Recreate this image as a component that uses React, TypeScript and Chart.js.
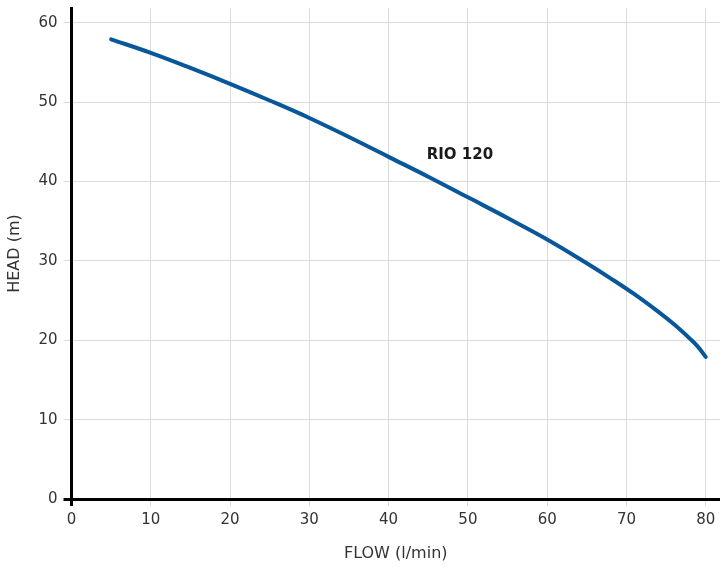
import React, { useEffect, useRef } from "react";
import { Chart, registerables } from "chart.js";

Chart.register(...registerables);

const flow = [5, 10, 15, 20, 25, 30, 35, 40, 45, 50, 55, 60, 65, 68, 71, 74, 76, 78, 79, 80];
const head = [57.9, 56.2, 54.3, 52.3, 50.2, 48.0, 45.6, 43.1, 40.6, 38.0, 35.4, 32.7, 29.7, 27.8, 25.8, 23.6, 22.0, 20.2, 19.2, 17.9];
const xTicks = [0, 10, 20, 30, 40, 50, 60, 70, 80];
const yTicks = [0, 10, 20, 30, 40, 50, 60];
const seriesLabel = "RIO 120";
const labelAt = { x: 44.8, y: 43.3 };
const xTitle = "FLOW (l/min)";
const yTitle = "HEAD (m)";

const FONT = "'DejaVu Sans', sans-serif";

const labelPlugin = {
  id: "curveLabel",
  afterDatasetsDraw(chart: any) {
    const { ctx, scales } = chart;
    const px = scales.x.getPixelForValue(labelAt.x);
    const py = scales.y.getPixelForValue(labelAt.y);
    ctx.save();
    ctx.font = `bold 15px ${FONT}`;
    ctx.fillStyle = "#1a1a1a";
    ctx.textAlign = "left";
    ctx.textBaseline = "middle";
    ctx.fillText(seriesLabel, px, py);
    ctx.restore();
  },
};

export default function App() {
  const ref = useRef<HTMLCanvasElement>(null);
  useEffect(() => {
    document.body.style.margin = "0";
    const gridColor = (c: any) => (c.tick && c.tick.value === 0 ? "#000" : "#dcdcdc");
    const gridWidth = (c: any) => (c.tick && c.tick.value === 0 ? 3 : 1);
    const chart = new Chart(ref.current!, {
      type: "line",
      data: {
        datasets: [
          {
            label: seriesLabel,
            data: flow.map((f, i) => ({ x: f, y: head[i] })),
            borderColor: "#07579a",
            borderWidth: 4,
            borderCapStyle: "round",
            pointRadius: 0,
            tension: 0.4,
            fill: false,
          },
        ],
      },
      options: {
        animation: false,
        responsive: true,
        maintainAspectRatio: false,
        layout: { padding: { top: 8, right: 0, left: 0, bottom: 0 } },
        plugins: { legend: { display: false }, tooltip: { enabled: false } },
        scales: {
          x: {
            type: "linear",
            min: 0,
            max: 81.8,
            afterBuildTicks: (s: any) => {
              s.ticks = xTicks.map((v) => ({ value: v }));
            },
            afterFit: (s: any) => {
              s.height = 68;
              s.paddingLeft = 0;
              s.paddingRight = 0;
            },
            ticks: { color: "#333", font: { family: FONT, size: 15 }, padding: 5, maxRotation: 0, autoSkip: false },
            grid: { color: gridColor, lineWidth: gridWidth, tickLength: 7 },
            border: { color: "#000", width: 3 },
            title: { display: true, text: xTitle, color: "#333", font: { family: FONT, size: 16 }, padding: { top: 6 } },
          },
          y: {
            type: "linear",
            min: 0,
            max: 61.85,
            afterBuildTicks: (s: any) => {
              s.ticks = yTicks.map((v) => ({ value: v }));
            },
            afterFit: (s: any) => {
              s.width = 71.5;
              s.paddingTop = 0;
              s.paddingBottom = 0;
            },
            ticks: { color: "#333", font: { family: FONT, size: 15 }, padding: 6, autoSkip: false },
            grid: { color: gridColor, lineWidth: gridWidth, tickLength: 8 },
            border: { color: "#000", width: 3 },
            title: { display: true, text: yTitle, color: "#333", font: { family: FONT, size: 16 }, padding: { top: 5, bottom: 0 } },
          },
        },
      },
      plugins: [labelPlugin],
    });
    return () => chart.destroy();
  }, []);
  return (
    <div style={{ width: 720, height: 567, position: "relative" }}>
      <canvas ref={ref} />
    </div>
  );
}
